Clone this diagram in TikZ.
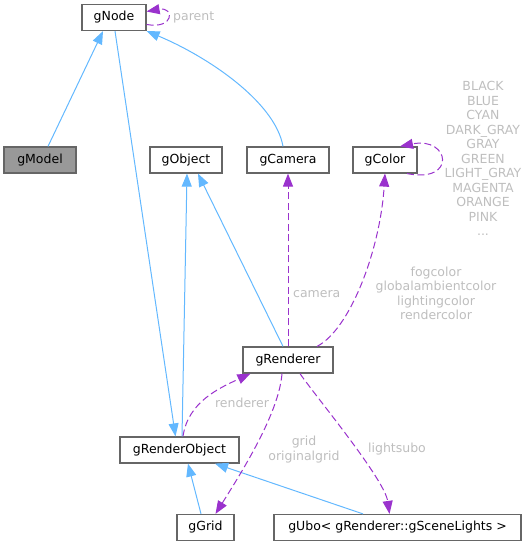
\documentclass[tikz,border=0pt]{standalone}
\usepackage{fontspec}
\setmainfont{DejaVu Sans}
\usetikzlibrary{arrows.meta,calc}
\definecolor{inhblue}{HTML}{63B8FF}
\definecolor{deppurple}{HTML}{9A32CD}
\definecolor{lblgray}{HTML}{BEBEBE}
\definecolor{bordergray}{HTML}{666666}
\definecolor{fillgray}{HTML}{999999}
\tikzset{
  box/.style={draw=bordergray, line width=1.2pt, fill=white, minimum height=26pt, inner sep=0pt, font=\fontsize{12.5}{14.5}\selectfont},
  inh/.style={draw=inhblue, line width=1pt, -{Triangle[length=13pt,width=10pt]}},
  dep/.style={draw=deppurple, line width=1pt, dash pattern=on 7pt off 3.5pt, -{Triangle[length=13pt,width=10pt]}},
  lbl/.style={text=lblgray, font=\fontsize{12.5}{14.5}\selectfont, inner sep=0pt, align=center}
}
\begin{document}
\begin{tikzpicture}[x=1pt,y=-1pt]
\useasboundingbox (0,0) rectangle (529,545);
% nodes
\node[box, minimum width=64pt] (gnode) at (114,17.5) {gNode};
\node[box, minimum width=72pt, fill=fillgray] (gmodel) at (40,160) {gModel};
\node[box, minimum width=72pt] (gobject) at (186,160) {gObject};
\node[box, minimum width=82pt] (gcamera) at (288,160) {gCamera};
\node[box, minimum width=64pt] (gcolor) at (385,160) {gColor};
\node[box, minimum width=90pt] (grenderer) at (288,360) {gRenderer};
\node[box, minimum width=119pt] (grenderobject) at (179.5,450) {gRenderObject};
\node[box, minimum width=57pt] (ggrid) at (205.5,527.5) {gGrid};
\node[box, minimum width=247pt] (gubo) at (397.5,527.5) {gUbo< gRenderer::gSceneLights >};
% inheritance edges
\draw[inh] ($(gmodel.north)+(8,0)$) -- ($(gnode.south)+(-11,0)$);
\draw[inh] ($(gnode.south)+(1,0)$) -- ($(grenderobject.north)+(-4,0)$);
\draw[inh] ($(gcamera.north)+(-5,0)$) .. controls +(-8,-45) and +(60,25) .. (gnode.south east);
\draw[inh] ($(grenderobject.north)+(2.5,0)$) -- ($(gobject.south)+(1,0)$);
\draw[inh] ($(grenderer.north)+(-5,0)$) -- ($(gobject.south)+(12,0)$);
\draw[inh] ($(ggrid.north)+(-4.5,0)$) -- ($(grenderobject.south)+(8.5,0)$);
\draw[inh] ($(gubo.north)+(-34.5,0)$) -- ($(grenderobject.south)+(35.5,0)$);
% dependency edges
\draw[dep] ($(gnode.east)+(0,7)$) .. controls +(28,5) and +(28,-5) .. ($(gnode.east)+(0,-6)$);
\node[lbl, anchor=west] (lparent) at (173,17.5) {parent};
\draw[dep] (grenderer.north) -- (gcamera.south);
\node[lbl, anchor=west] (lcamera) at (293,294) {camera};
\draw[dep] ($(grenderer.north)+(29,0)$) .. controls +(33,-17) and +(-5,77) .. (gcolor.south);
\node[lbl] (lcolor) at (436,293.5) {fogcolor\\globalambientcolor\\lightingcolor\\rendercolor};
\draw[dep] ($(gcolor.south)+(22,0)$) .. controls +(50,10) and +(50,-10) .. ($(gcolor.north)+(15,0)$);
\node[lbl] (lcolors) at (483,158.5) {BLACK\\BLUE\\CYAN\\DARK\_GRAY\\GRAY\\GREEN\\LIGHT\_GRAY\\MAGENTA\\ORANGE\\PINK\\...};
\draw[dep] ($(grenderobject.north)+(3.5,0)$) .. controls +(5,-35) and +(-30,14) .. ($(grenderer.south west)+(8,0)$);
\node[lbl] (lrenderer) at (242,403) {renderer};
\draw[dep] ($(grenderer.south)+(-6,0)$) .. controls +(-3,40) and +(25,-40) .. ($(ggrid.north)+(10,0)$);
\node[lbl] (lgrid) at (304,449.5) {grid\\originalgrid};
\draw[dep] ($(grenderer.south)+(12,0)$) .. controls +(15,22) and +(-5,-35) .. ($(gubo.north)+(-8,0)$);
\node[lbl] (llights) at (397,449) {lightsubo};
\end{tikzpicture}
\end{document}
